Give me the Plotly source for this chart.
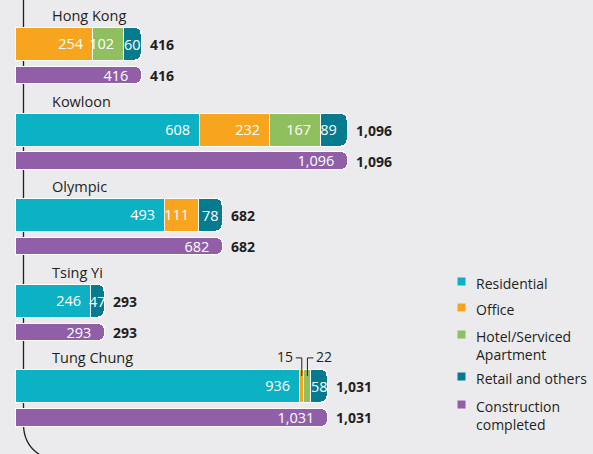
import plotly.graph_objects as go

# ---------------- data ----------------
regions = ["Hong Kong", "Kowloon", "Olympic", "Tsing Yi", "Tung Chung"]
residential = [0, 608, 493, 246, 936]
office = [254, 232, 111, 0, 15]
hotel = [102, 167, 0, 0, 22]
retail = [60, 89, 78, 47, 58]
completed = [416, 1096, 682, 293, 1031]

series_names = ["Residential", "Office", "Hotel/Serviced<br>Apartment", "Retail and others"]
series_values = [residential, office, hotel, retail]
series_colors = ["#0cb1c4", "#f7a51f", "#8fbf5e", "#067b90"]
completed_name = "Construction<br>completed"
completed_color = "#905fa7"
small_labelled = {"Office": 4, "Hotel/Serviced<br>Apartment": 4}  # Tung Chung tiny segments labelled outside

# ---------------- geometry helpers ----------------
W, H = 593, 454
BG = "#ebebed"
DARK = "#231f20"
FONT = "Open Sans"
S = 332 / 1096.0          # px per unit
X0 = 16                   # px where value 0 sits
ROW0, ROWSTEP = 44.5, 85.6
PURPLE_OFF = 31
PAD = "\u00a0\u2009"
def px2x(px):
    return (px - X0) / S

centers = [ROW0 + ROWSTEP * i for i in range(len(regions))]
purple_y = [c + PURPLE_OFF for c in centers]
totals = [sum(v[i] for v in series_values) for i in range(len(regions))]

fig = go.Figure()
annotations = []

cum = [0] * len(regions)
for name, vals, col in zip(series_names, series_values, series_colors):
    xs, txt = [], []
    for i, v in enumerate(vals):
        xs.append(v if v else None)
        hide = (name in small_labelled and i == small_labelled[name])
        narrow = v * S < 25
        if not v or hide:
            txt.append("")
        elif narrow:
            txt.append("")
            annotations.append(dict(x=cum[i] + v / 2, y=centers[i], xref="x", yref="y",
                                    text=f"{v:,}", showarrow=False, xanchor="center",
                                    yanchor="middle",
                                    font=dict(size=14.5, color="white", family=FONT)))
        else:
            txt.append(f"{v:,}{PAD}")
        cum[i] += v
    fig.add_trace(go.Bar(
        y=centers, x=xs, orientation="h", width=33, name=name,
        marker=dict(color=col, line=dict(color="white", width=1.5), cornerradius=7),
        text=txt, textposition="inside", insidetextanchor="end",
        textangle=0, constraintext="none",
        insidetextfont=dict(color="white", size=14.5, family=FONT),
        showlegend=False, hoverinfo="x+name",
    ))

fig.add_trace(go.Bar(
    y=purple_y, x=completed, orientation="h", width=17.5, name=completed_name,
    marker=dict(color=completed_color, line=dict(color="white", width=1), cornerradius=5),
    text=[f"{v:,}{PAD}" for v in completed], textposition="inside", insidetextanchor="end",
    textangle=0, constraintext="none",
    insidetextfont=dict(color="white", size=14.5, family=FONT),
    showlegend=False, hoverinfo="x+name",
))

# region labels
for name, c in zip(regions, centers):
    annotations.append(dict(x=px2x(50), y=c - 29, xref="x", yref="y", text=name,
                            showarrow=False, xanchor="left", yanchor="middle",
                            font=dict(size=14.5, color=DARK, family=FONT)))
# totals
for t, c in zip(totals, centers):
    annotations.append(dict(x=t + 6 / S, y=c, xref="x", yref="y", text=f"<b>{t:,}</b>",
                            showarrow=False, xanchor="left", yanchor="middle",
                            font=dict(size=14, color=DARK, family=FONT)))
for t, c in zip(completed, purple_y):
    annotations.append(dict(x=t + 6 / S, y=c, xref="x", yref="y", text=f"<b>{t:,}</b>",
                            showarrow=False, xanchor="left", yanchor="middle",
                            font=dict(size=14, color=DARK, family=FONT)))

shapes = []
# leader labels for tiny Tung Chung segments
i = 4
c = centers[i]
off_mid = residential[i] + office[i] / 2
hot_mid = residential[i] + office[i] + hotel[i] / 2
ly = c - 29
for mid, direction, val in [(off_mid, -1, office[i]), (hot_mid, 1, hotel[i])]:
    shapes.append(dict(type="path", xref="x", yref="y", layer="above",
                       path=f"M {mid + direction * 6 / S},{ly} L {mid},{ly} L {mid},{c - 11}",
                       line=dict(color=DARK, width=1)))
    annotations.append(dict(x=mid + direction * 7 / S, y=ly - 1, xref="x", yref="y", text=str(val),
                            showarrow=False, xanchor="right" if direction < 0 else "left",
                            yanchor="middle", font=dict(size=14, color=DARK, family=FONT)))

# vertical bracket line on the left
shapes.append(dict(type="path", xref="x", yref="y", layer="below",
                   path=f"M {px2x(23.5)},-2 L {px2x(23.5)},424 C {px2x(23.5)},440 {px2x(30)},451 {px2x(46)},458",
                   line=dict(color=DARK, width=1.3)))

# legend (manual)
legend_items = list(zip(series_names, series_colors)) + [(completed_name, completed_color)]
legend_y = [282, 308, 335, 377, 405]
for (name, col), ly in zip(legend_items, legend_y):
    shapes.append(dict(type="rect", xref="x", yref="y", x0=px2x(457.5), x1=px2x(465.5),
                       y0=ly - 4.5, y1=ly + 3.5, fillcolor=col, line=dict(width=0)))
    annotations.append(dict(x=px2x(474), y=ly - 10, xref="x", yref="y", text=name,
                            showarrow=False, xanchor="left", yanchor="top", align="left",
                            font=dict(size=14, color=DARK, family=FONT)))

fig.update_layout(
    width=W, height=H, margin=dict(l=0, r=0, t=0, b=0),
    paper_bgcolor=BG, plot_bgcolor=BG, barmode="stack", bargap=0,
    uniformtext=dict(minsize=14.5, mode="show"),
    xaxis=dict(range=[px2x(0), px2x(W)], visible=False, fixedrange=True),
    yaxis=dict(range=[H, 0], visible=False, fixedrange=True),
    annotations=annotations, shapes=shapes, showlegend=False,
    font=dict(family=FONT, color=DARK),
)

fig.write_html("out.html")
